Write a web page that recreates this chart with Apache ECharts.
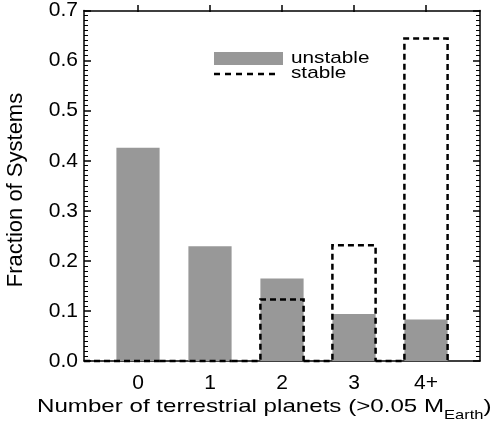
<!DOCTYPE html>
<html>
<head>
<meta charset="utf-8">
<script src="https://cdn.jsdelivr.net/npm/echarts@6/dist/echarts.min.js"></script>
<style>
  html, body { margin: 0; padding: 0; background: #fff; }
  #chart { width: 502px; height: 428px; }
</style>
</head>
<body>
<div id="chart"></div>
<script>
// planets per system: 0, 1, 2, 3, 4+
const categories = ['0', '1', '2', '3', '4+']
const unstable = [0.426, 0.229, 0.165, 0.094, 0.083]
const stable = [0, 0, 0.123, 0.231, 0.644]

const FONT = 'Liberation Sans, Arial, Helvetica, sans-serif'
const HALF = 0.3 // half bar width in x units
const X_MIN = -0.75, X_MAX = 4.75

// plot box; x runs -0.75..4.75
const G = { left: 84, right: 22, top: 5, bottom: 67 }
const PW = 502 - G.left - G.right
const UNIT = PW / (X_MAX - X_MIN)
// second grid spans 0..4 only, it carries the x ticks and labels
const G2 = {
  left: G.left + (0 - X_MIN) * UNIT,
  right: G.right + (X_MAX - (categories.length - 1)) * UNIT,
  top: G.top, bottom: G.bottom
}

// x title pieces, stretched like the original lettering
const SX = 1.27
const ctx = document.createElement('canvas').getContext('2d')
const textW = (s, px) => { ctx.font = px + 'px ' + FONT; return ctx.measureText(s).width * SX }
const T1 = 'Number of terrestrial planets (>0.05 M', T2 = 'Earth', T3 = ')'
const tx1 = 37, tx2 = tx1 + textW(T1, 19), tx3 = tx2 + textW(T2, 13)

const chart = echarts.init(document.getElementById('chart'))

const frameLine = { show: true, onZero: false, lineStyle: { color: '#000', width: 1.5 } }
const tickStyle = { color: '#000', width: 1.5 }
const labelFont = { color: '#000', fontSize: 21, fontFamily: FONT }

function xTicks (position, labels) {
  return {
    gridIndex: 1, type: 'value', min: 0, max: categories.length - 1, interval: 1, position,
    axisLine: { show: false, onZero: false }, splitLine: { show: false },
    axisTick: { show: true, inside: true, length: 7, lineStyle: tickStyle },
    axisLabel: labels
      ? Object.assign({ margin: 12, formatter: v => categories[Math.round(v)] }, labelFont)
      : { show: false }
  }
}
function yFrame (position, labels) {
  return {
    type: 'value', min: 0, max: 0.7, interval: 0.1, position,
    axisLine: frameLine, splitLine: { show: false },
    axisTick: { show: true, inside: true, length: 7, lineStyle: tickStyle },
    minorTick: { show: true, splitNumber: 10, length: 4, lineStyle: { color: '#000', width: 1 } },
    axisLabel: labels
      ? Object.assign({ margin: 6, formatter: v => v.toFixed(1) }, labelFont)
      : { show: false }
  }
}
function txt (x, y, s, px, extra) {
  return Object.assign({
    type: 'text', x, y, scaleX: SX,
    style: { text: s, font: px + 'px ' + FONT, fill: '#000', verticalAlign: 'middle' }
  }, extra || {})
}

chart.setOption({
  animation: false,
  grid: [G, G2],
  xAxis: [
    {
      type: 'value', min: X_MIN, max: X_MAX, position: 'bottom',
      axisLine: frameLine, axisTick: { show: false },
      axisLabel: { show: false }, splitLine: { show: false }
    },
    {
      type: 'value', min: X_MIN, max: X_MAX, position: 'top',
      axisLine: frameLine, axisTick: { show: false },
      axisLabel: { show: false }, splitLine: { show: false }
    },
    xTicks('bottom', true),
    xTicks('top', false)
  ],
  yAxis: [
    yFrame('left', true),
    yFrame('right', false),
    { gridIndex: 1, type: 'value', min: 0, max: 0.7, show: false }
  ],
  graphic: [
    { type: 'rect', shape: { x: 214, y: 52, width: 69, height: 13 }, style: { fill: '#989898' } },
    { type: 'line', shape: { x1: 214, y1: 74, x2: 280, y2: 74 },
      style: { stroke: '#000', lineWidth: 2.5, lineDash: [6, 5] } },
    txt(291, 58, 'unstable', 17, { scaleX: 1.22 }),
    txt(291, 73, 'stable', 17, { scaleX: 1.22 }),
    txt(tx1, 407, T1, 19),
    txt(tx2, 415, T2, 13),
    txt(tx3, 407, T3, 19),
    {
      type: 'text', x: 16, y: 190, rotation: Math.PI / 2,
      style: {
        text: 'Fraction of Systems', font: '22px ' + FONT, fill: '#000',
        align: 'center', verticalAlign: 'middle'
      }
    }
  ],
  series: [
    {
      name: 'unstable', type: 'custom', coordinateSystem: 'cartesian2d',
      xAxisIndex: 0, yAxisIndex: 0,
      data: unstable.map((v, i) => [i, v]),
      renderItem: (params, api) => {
        const x = api.value(0), v = api.value(1)
        const p0 = api.coord([x - HALF, v])
        const p1 = api.coord([x + HALF, 0])
        return {
          type: 'rect',
          shape: { x: p0[0], y: p0[1], width: p1[0] - p0[0], height: p1[1] - p0[1] },
          style: { fill: '#989898' }
        }
      }
    },
    {
      name: 'stable', type: 'custom', coordinateSystem: 'cartesian2d',
      xAxisIndex: 0, yAxisIndex: 0,
      data: stable.map((v, i) => [i, v]),
      z: 3,
      renderItem: (params, api) => {
        const x = api.value(0), v = api.value(1)
        const prev = params.dataIndex === 0 ? X_MIN : x - 1 + HALF
        const pts = [[prev, 0], [x - HALF, 0], [x - HALF, v], [x + HALF, v], [x + HALF, 0]]
          .map(p => api.coord(p))
        return {
          type: 'polyline',
          shape: { points: pts },
          style: { stroke: '#000', lineWidth: 2.5, lineDash: [6, 4], fill: null }
        }
      }
    }
  ]
})
</script>
</body>
</html>
